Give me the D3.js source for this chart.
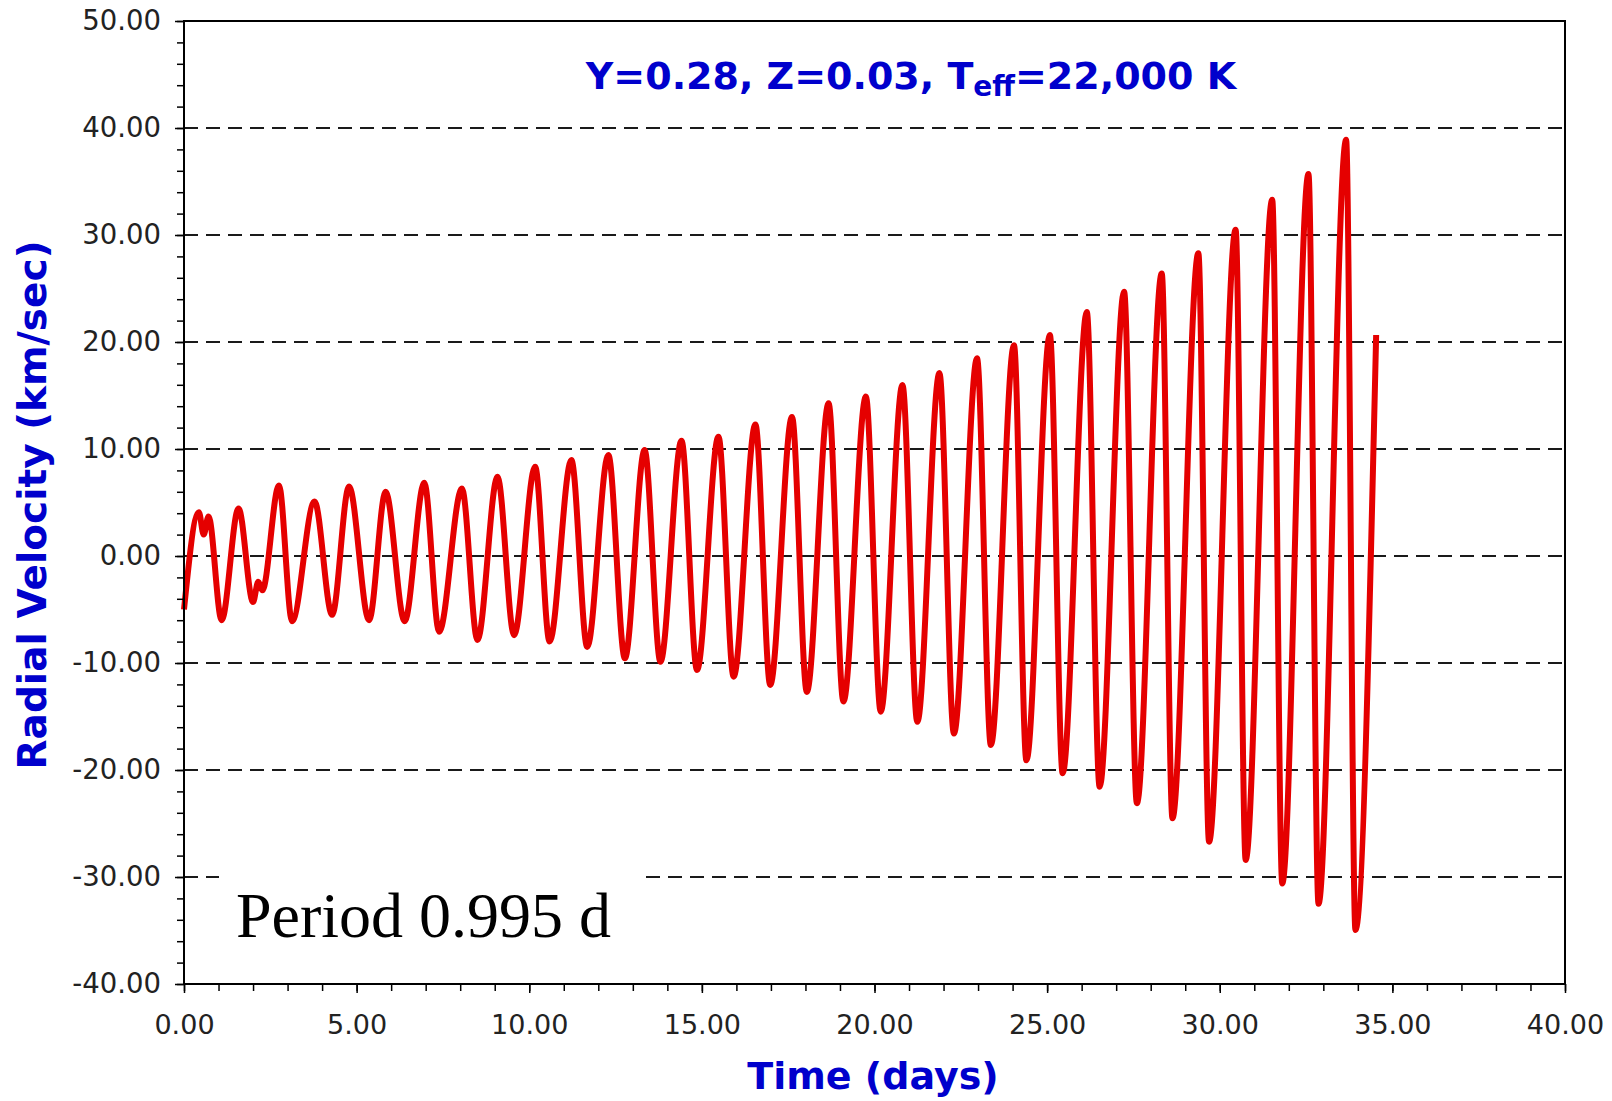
<!DOCTYPE html>
<html><head><meta charset="utf-8">
<script src="https://cdn.jsdelivr.net/npm/d3@7"></script>
<style>body{margin:0;background:#fff}</style>
</head><body>
<svg id="chart" width="1612" height="1101"></svg>
<script>
// ---- data (extrema of the radial-velocity curve) ----
const times = [0.00,0.43,0.57,0.71,1.09,1.58,2.00,2.15,2.27,2.75,3.13,3.78,4.29,4.78,5.36,5.84,6.39,6.96,7.39,8.05,8.50,9.08,9.56,10.17,10.59,11.22,11.68,12.29,12.77,13.34,13.80,14.41,14.86,15.48,15.92,16.55,16.98,17.61,18.04,18.67,19.10,19.75,20.18,20.81,21.24,21.88,22.30,22.97,23.37,24.04,24.40,25.08,25.45,26.15,26.52,27.23,27.60,28.32,28.63,29.38,29.69,30.46,30.75,31.52,31.81,32.57,32.86,33.66,33.93,34.53];
const velocities = [-5.0,4.1,2.0,3.7,-6.0,4.45,-4.3,-2.4,-3.2,6.6,-6.1,5.1,-5.5,6.5,-6.0,6.0,-6.1,6.85,-7.07,6.3,-7.85,7.4,-7.4,8.35,-8.0,8.97,-8.5,9.44,-9.56,9.9,-9.88,10.78,-10.65,11.15,-11.28,12.3,-12.05,13.0,-12.7,14.27,-13.6,14.9,-14.55,15.98,-15.5,17.1,-16.6,18.47,-17.66,19.7,-19.1,20.65,-20.3,22.8,-21.56,24.7,-23.1,26.4,-24.5,28.3,-26.7,30.5,-28.4,33.3,-30.6,35.7,-32.5,38.9,-34.95,20.65];

const xTickValues = [0,5,10,15,20,25,30,35,40];
const xTickLabels = ["0.00","5.00","10.00","15.00","20.00","25.00","30.00","35.00","40.00"];
const yTickValues = [50,40,30,20,10,0,-10,-20,-30,-40];
const yTickLabels = ["50.00","40.00","30.00","20.00","10.00","0.00","-10.00","-20.00","-30.00","-40.00"];
const gridValues = [40,30,20,10,0,-10,-20,-30];
const xMinorStep = 1, yMinorStep = 2;

const titleMain = "Y=0.28, Z=0.03, T";
const titleSub = "eff";
const titleEnd = "=22,000 K";
const xLabel = "Time (days)";
const yLabel = "Radial Velocity (km/sec)";
const note = "Period 0.995 d";

// ---- layout ----
const L = 184, R = 1565, T = 21, B = 984;
const svg = d3.select("#chart");
svg.append("rect").attr("width",1612).attr("height",1101).attr("fill","#fff");

const x = d3.scaleLinear().domain([0,40]).range([L,R]);
const y = d3.scaleLinear().domain([-40,50]).range([B,T]);

// grid
svg.append("g").selectAll("line").data(gridValues).join("line")
  .attr("x1",L).attr("x2",R).attr("y1",d=>y(d)).attr("y2",d=>y(d))
  .attr("stroke","#1a1a1a").attr("stroke-width",2).attr("stroke-dasharray","14,8");

// white box behind the note
svg.append("rect").attr("x",219).attr("y",852).attr("width",421).attr("height",110).attr("fill","#fff");

// curve
const pts = times.map((t,i)=>({t, v: velocities[i]}));
const line = d3.line().x(d=>x(d.t)).y(d=>y(d.v)).curve(d3.curveMonotoneX);
svg.append("path").datum(pts).attr("d",line)
  .attr("fill","none").attr("stroke","#e50000").attr("stroke-width",6)
  .attr("stroke-linejoin","round").attr("stroke-linecap","butt");

// minor ticks
const xMinor = d3.range(0,40+1e-9,xMinorStep);
const yMinor = d3.range(-40,50+1e-9,yMinorStep);
svg.append("g").attr("transform",`translate(0,${B})`)
  .call(d3.axisBottom(x).tickValues(xMinor).tickSize(7).tickFormat("").tickSizeOuter(0))
  .call(g=>g.select(".domain").remove())
  .call(g=>g.selectAll("line").attr("stroke","#000").attr("stroke-width",1.5));
svg.append("g").attr("transform",`translate(${L},0)`)
  .call(d3.axisLeft(y).tickValues(yMinor).tickSize(7).tickFormat("").tickSizeOuter(0))
  .call(g=>g.select(".domain").remove())
  .call(g=>g.selectAll("line").attr("stroke","#000").attr("stroke-width",1.5));

// major axes
const xAxis = d3.axisBottom(x).tickValues(xTickValues).tickSize(9).tickPadding(22)
  .tickFormat((d,i)=>xTickLabels[i]).tickSizeOuter(0);
svg.append("g").attr("transform",`translate(0,${B})`).call(xAxis)
  .call(g=>g.select(".domain").remove())
  .call(g=>g.selectAll("line").attr("stroke","#000").attr("stroke-width",1.5))
  .call(g=>g.selectAll("text").attr("font-family","'DejaVu Sans', Verdana, sans-serif")
     .attr("font-size",27).attr("fill","#222"));
const yAxis = d3.axisLeft(y).tickValues(yTickValues).tickSize(9).tickPadding(14)
  .tickFormat((d,i)=>yTickLabels[i]).tickSizeOuter(0);
svg.append("g").attr("transform",`translate(${L},0)`).call(yAxis)
  .call(g=>g.select(".domain").remove())
  .call(g=>g.selectAll("line").attr("stroke","#000").attr("stroke-width",1.5))
  .call(g=>g.selectAll("text").attr("font-family","'DejaVu Sans', Verdana, sans-serif")
     .attr("font-size",27.5).attr("fill","#222"));

// frame
svg.append("rect").attr("x",L).attr("y",T).attr("width",R-L).attr("height",B-T)
  .attr("fill","none").attr("stroke","#000").attr("stroke-width",2);

// title
const blue = "#0000cc";
const tt = svg.append("text").attr("x",911).attr("y",89).attr("text-anchor","middle")
  .attr("font-family","'DejaVu Sans', Verdana, sans-serif").attr("font-weight","bold")
  .attr("font-size",38).attr("fill",blue);
tt.append("tspan").text(titleMain);
tt.append("tspan").attr("font-size",28).attr("dy",7).text(titleSub);
tt.append("tspan").attr("dy",-7).text(titleEnd);

// axis titles
svg.append("text").attr("x",873).attr("y",1089).attr("text-anchor","middle")
  .attr("font-family","'DejaVu Sans', Verdana, sans-serif").attr("font-weight","bold")
  .attr("font-size",38).attr("fill",blue).text(xLabel);
svg.append("text").attr("transform","translate(46,505) rotate(-90)").attr("text-anchor","middle")
  .attr("font-family","'DejaVu Sans', Verdana, sans-serif").attr("font-weight","bold")
  .attr("font-size",39).attr("fill",blue).text(yLabel);

// note
svg.append("text").attr("x",236).attr("y",937)
  .attr("font-family","'Liberation Serif', 'Times New Roman', serif")
  .attr("font-size",64).attr("fill","#000").text(note);
</script>
</body></html>
